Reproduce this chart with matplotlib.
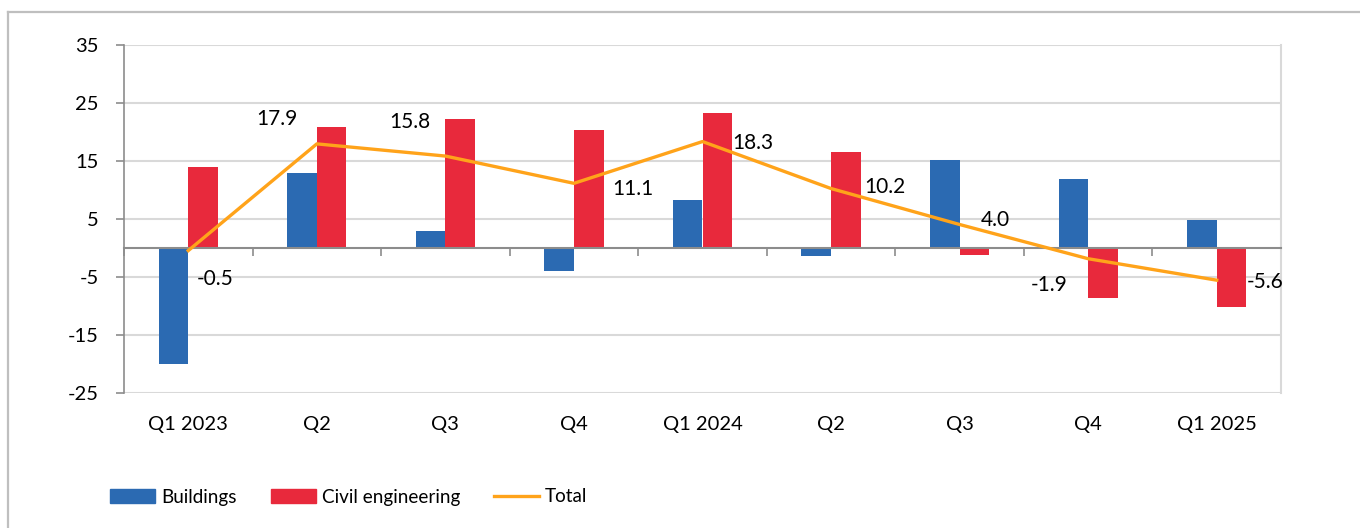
import matplotlib
matplotlib.use("Agg")
import matplotlib.pyplot as plt
import numpy as np
from matplotlib.lines import Line2D
from matplotlib.patches import Patch

plt.rcParams['font.family'] = ['Lato', 'DejaVu Sans']
plt.rcParams['axes.unicode_minus'] = False

categories = ["Q1 2023", "Q2", "Q3", "Q4", "Q1 2024", "Q2", "Q3", "Q4", "Q1 2025"]
buildings = [-20.1, 12.9, 2.9, -4.1, 8.2, -1.4, 15.2, 11.8, 4.7]
civil = [14.0, 20.8, 22.2, 20.3, 23.2, 16.5, -1.3, -8.7, -10.3]
total = [-0.5, 17.9, 15.8, 11.1, 18.3, 10.2, 4.0, -1.9, -5.6]
label_offsets = [(27, -28), (-40, 25), (-36, 34), (59, -6), (50, -1),
                 (54, 2), (36, 5), (-39, -26), (48, -2)]
yticks = [-25, -15, -5, 5, 15, 25, 35]

C_BLUE = "#2B6AB2"
C_RED = "#E8293C"
C_ORANGE = "#FFA31A"
C_GRID = "#D9D9D9"
C_AXIS = "#8C8C8C"

fig = plt.figure(figsize=(13.6, 5.28), dpi=100)
ax = fig.add_axes([124/1360, 1-392.7/528, (1281-124)/1360, (392.7-44.7)/528])

x = np.arange(len(categories))
w = 0.23
ax.bar(x - w/2, buildings, width=w, color=C_BLUE, zorder=2)
ax.bar(x + w/2, civil, width=w, color=C_RED, zorder=2)
ax.plot(x, total, color=C_ORANGE, lw=2.4, zorder=3, solid_joinstyle='round')

for xi, v, off in zip(x, total, label_offsets):
    ax.annotate(f"{v:.1f}", (xi, v), xytext=off, textcoords='offset pixels',
                ha='center', va='center', fontsize=15, color='black', zorder=4)

ax.set_xlim(-0.5, len(categories) - 0.5)
ax.set_ylim(-25, 35)
ax.set_yticks(yticks)
ax.yaxis.grid(True, color=C_GRID, lw=1.5, zorder=0)
ax.set_axisbelow(True)
ax.tick_params(axis='y', length=6, width=1.2, color=C_AXIS, pad=12, labelsize=14.5)

ax.spines['top'].set_visible(False)
ax.spines['right'].set_color(C_GRID)
ax.spines['right'].set_linewidth(1.5)
ax.spines['left'].set_color(C_AXIS)
ax.spines['left'].set_linewidth(1.2)
ax.spines['bottom'].set_position(('data', 0))
ax.spines['bottom'].set_color(C_AXIS)
ax.spines['bottom'].set_linewidth(1.5)
ax.set_xticks(np.arange(-0.5, len(categories), 1.0))
ax.tick_params(axis='x', direction='out', length=6, width=1.2, color=C_AXIS, labelbottom=False)

sec = ax.secondary_xaxis('bottom')
sec.set_xticks(x)
sec.set_xticklabels(categories)
sec.tick_params(length=0, pad=17, labelsize=14.5)
sec.spines['bottom'].set_visible(False)

handles = [Patch(color=C_BLUE, label="Buildings"),
           Patch(color=C_RED, label="Civil engineering"),
           Line2D([0], [0], color=C_ORANGE, lw=2.4, label="Total")]
fig.legend(handles=handles, loc='center left', bbox_to_anchor=(93/1360, 1-497/528),
           ncol=3, frameon=False, fontsize=13.6, handlelength=2.4, handleheight=0.8,
           handletextpad=0.3, columnspacing=1.8)

# outer frame lines
fig.add_artist(Line2D([8/1360, 1], [1-12/528, 1-12/528], transform=fig.transFigure,
                      color="#BFBFBF", lw=1.6))
fig.add_artist(Line2D([8/1360, 8/1360], [0, 1-12/528], transform=fig.transFigure,
                      color="#BFBFBF", lw=1.6))

fig.savefig("out.png", dpi=100)
